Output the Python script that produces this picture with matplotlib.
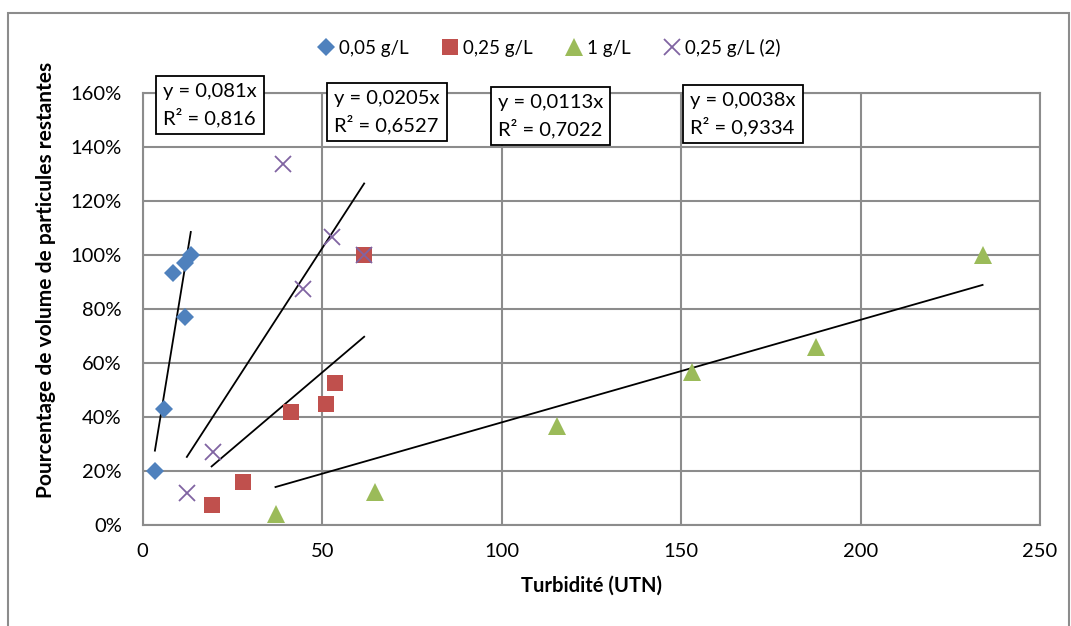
import matplotlib.pyplot as plt
import matplotlib
from matplotlib.patches import Rectangle
from matplotlib.ticker import FuncFormatter

matplotlib.rcParams['font.family'] = ['Lato', 'DejaVu Sans']

# données
x_005 = [3.4, 6.0, 8.5, 11.8, 11.8, 13.4]
y_005 = [0.201, 0.430, 0.934, 0.771, 0.969, 1.00]

x_025 = [19.2, 28.0, 41.2, 51.0, 53.6, 61.7]
y_025 = [0.074, 0.160, 0.417, 0.447, 0.525, 1.00]

x_1 = [37.0, 64.7, 115.3, 153.1, 187.7, 234.0]
y_1 = [0.041, 0.123, 0.366, 0.568, 0.659, 1.00]

x_025b = [12.3, 19.7, 39.0, 44.7, 52.7, 61.7]
y_025b = [0.117, 0.271, 1.337, 0.874, 1.068, 1.00]

labels = ["0,05 g/L", "0,25 g/L", "1 g/L", "0,25 g/L (2)"]
slopes = [0.081, 0.0113, 0.0038, 0.0205]
equations = ["y = 0,081x\nR² = 0,816", "y = 0,0205x\nR² = 0,6527",
             "y = 0,0113x\nR² = 0,7022", "y = 0,0038x\nR² = 0,9334"]

W, H = 1071, 626
fig = plt.figure(figsize=(W / 100, H / 100), dpi=100, facecolor="white")
ax = fig.add_axes([142.7 / W, 1 - 525 / H, (1040 - 142.7) / W, (525 - 93) / H])

# cadre extérieur du graphique
fig.patches.append(Rectangle((8 / W, -0.1), (1069 - 8) / W, 1.1 - 13 / H,
                             transform=fig.transFigure, fill=False,
                             edgecolor='#8c8c8c', linewidth=1.5))

series = [
    (x_005, y_005, 'D', '#4F81BD', 9.5),
    (x_025, y_025, 's', '#C0504D', 11.5),
    (x_1, y_1, '^', '#9BBB59', 12.5),
    (x_025b, y_025b, 'x', '#8064A2', 11.5),
]
handles = []
for (xs, ys, m, c, ms), lab in zip(series, labels):
    if m == 'x':
        h, = ax.plot(xs, ys, linestyle='none', marker=m, color=c, markersize=ms,
                     markeredgewidth=1.3, label=lab, zorder=3)
    else:
        h, = ax.plot(xs, ys, linestyle='none', marker=m, color=c, markersize=ms,
                     markeredgewidth=0, label=lab, zorder=3)
    handles.append(h)

# courbes de tendance (ordonnée à l'origine = 0)
for (xs, ys, m, c, ms), a in zip(series, slopes):
    x0, x1 = min(xs), max(xs)
    ax.plot([x0, x1], [a * x0, a * x1], color='black', linewidth=1.3, zorder=2)

ax.set_xlim(0, 250)
ax.set_ylim(0, 1.6)
ax.set_xticks(range(0, 251, 50))
ax.set_yticks([i * 0.2 for i in range(9)])
ax.yaxis.set_major_formatter(FuncFormatter(lambda v, p: f"{v * 100:.0f}%"))
ax.tick_params(length=0, labelsize=14.5)
ax.tick_params(axis='x', pad=13)
ax.tick_params(axis='y', pad=15)
ax.grid(True, color='#8c8c8c', linewidth=1.5)
ax.set_axisbelow(True)
for s in ax.spines.values():
    s.set_color('#8c8c8c')
    s.set_linewidth(1.5)

ax.set_xlabel("Turbidité (UTN)", fontsize=14.5, fontweight='bold', labelpad=11)
ax.set_ylabel("Pourcentage de volume de particules restantes", fontsize=15,
              fontweight='bold')
ax.yaxis.set_label_coords(-0.0966, 0.567)

fig.legend(handles=handles, loc='center', bbox_to_anchor=(548 / W, 1 - 48 / H),
           ncol=4, frameon=False, fontsize=13.5, handletextpad=0.1,
           columnspacing=1.6, handlelength=1.2)

# étiquettes des équations
box_pos = [(163, 83), (334, 90), (498, 94), (690, 92)]
for (px, py), txt in zip(box_pos, equations):
    fig.text(px / W, 1 - py / H, txt, fontsize=14.5, va='top', ha='left',
             linespacing=1.45,
             bbox=dict(boxstyle='square,pad=0.35', facecolor='white',
                       edgecolor='black', linewidth=1.3))

plt.savefig("out.png", dpi=100, facecolor="white")
